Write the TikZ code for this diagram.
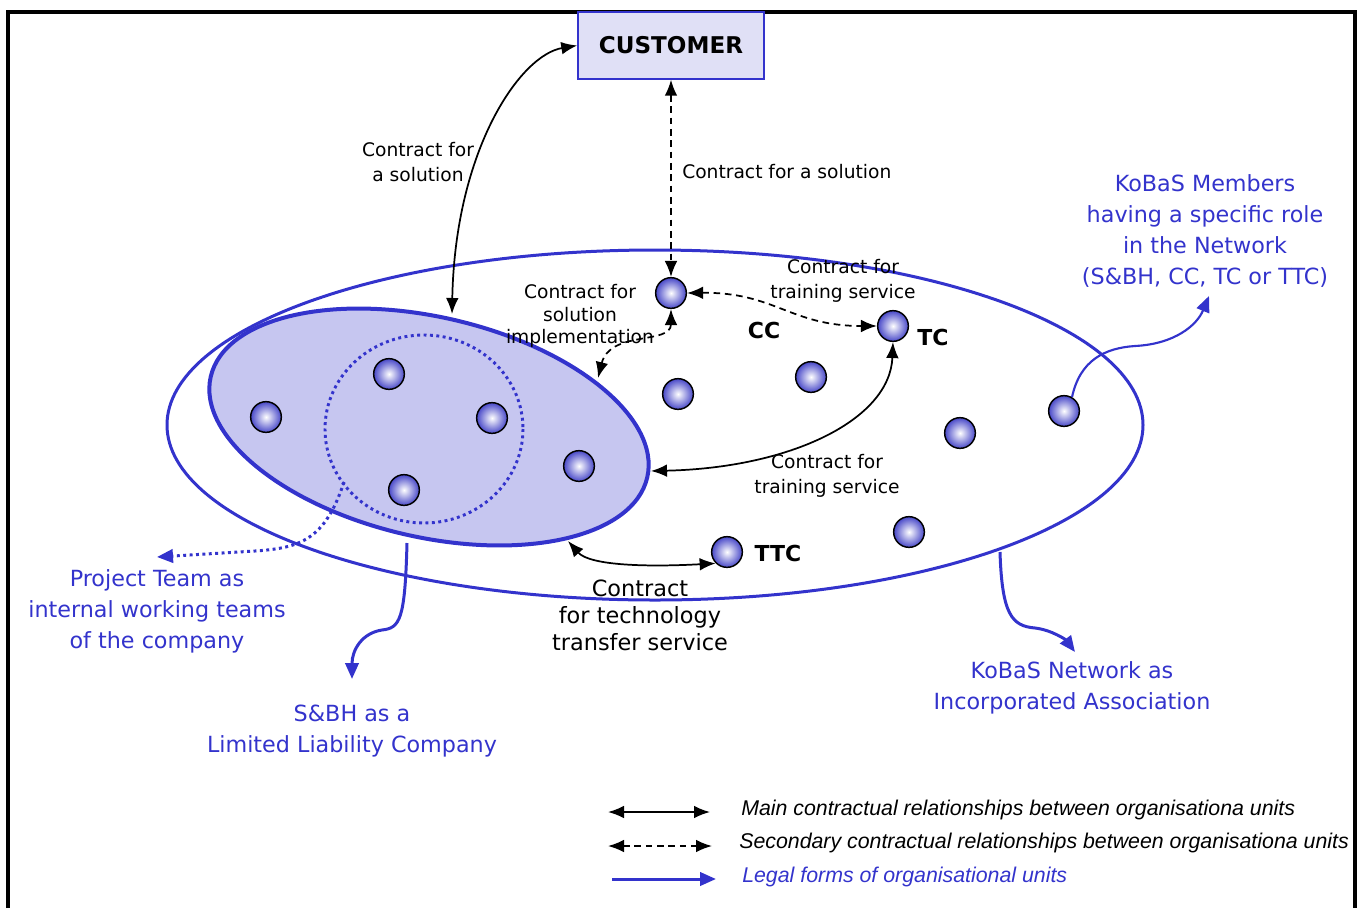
\documentclass[tikz,border=0pt]{standalone}
\usepackage{fontspec}
\setmainfont{DejaVu Sans}
\newfontfamily\legendfont{Liberation Sans}
\usetikzlibrary{arrows.meta}
\definecolor{kobasblue}{RGB}{51,51,204}
\definecolor{teamfill}{RGB}{198,198,240}
\definecolor{custfill}{RGB}{224,224,246}
\definecolor{ballblue}{RGB}{72,72,200}

\begin{document}
\begin{tikzpicture}[x=0.75pt,y=0.75pt,yscale=-1,xscale=1,
    unit/.style={circle,draw=black,line width=1.1pt,minimum size=23pt,inner sep=0pt,inner color=white,outer color=ballblue},
    lbl/.style={align=center,inner sep=0.75pt,font=\fontsize{14}{18.75}\selectfont},
    bluelbl/.style={align=center,inner sep=0.75pt,text=kobasblue,font=\fontsize{16.7}{23.25}\selectfont},
    rolelbl/.style={inner sep=0.75pt,font=\fontsize{16.5}{20}\selectfont\bfseries},
    keytext/.style={anchor=west,inner sep=0.75pt,font=\legendfont\itshape\fontsize{16}{19}\selectfont},
    mainarrow/.style={line width=1.3pt,{Latex[length=12pt,width=9.5pt]}-{Latex[length=12pt,width=9.5pt]}},
    secarrow/.style={line width=1.3pt,dash pattern=on 5pt off 3.5pt,{Latex[length=12pt,width=9.5pt]}-{Latex[length=12pt,width=9.5pt]}},
    legalarrow/.style={kobasblue,line width=2.25pt,-{Triangle[length=12pt,width=10pt]}}]
    \useasboundingbox (0,0) rectangle (1361,908);

    %Shape: Frame
    \draw [line width=2.4pt] (8,908) -- (8,12) -- (1355,12) -- (1355,908);

    %Shape: KoBaS network ellipse
    \draw [kobasblue,line width=2.25pt] (655,425) ellipse [x radius=488, y radius=175];
    %Shape: S&BH ellipse
    \draw [kobasblue,line width=3pt,fill=teamfill,rotate around={13:(429,427)}] (429,427) ellipse [x radius=224, y radius=110];
    %Shape: project team circle
    \draw [kobasblue,line width=2.2pt,dash pattern=on 2.2pt off 2.6pt] (424,429) ellipse [x radius=99, y radius=94];

    % points on the shapes
    \coordinate (sbhtop) at (452,314);
    \coordinate (sbhimpl) at (598,378);
    \coordinate (sbhright) at (651,471);
    \coordinate (sbhbottom) at (568,541);
    \coordinate (sbhlegal) at (407,543);
    \coordinate (teamstart) at (344,482);
    \coordinate (kobaslegal) at (1000,552);
    \coordinate (sbhtip) at (352,679);
    \coordinate (teamtip) at (157,557);
    \coordinate (kobastip) at (1075,652);
    \coordinate (memtip) at (1209,296);

    % Customer box
    \node (cust) [draw=kobasblue,line width=1.1pt,fill=custfill,minimum width=139.5pt,minimum height=50.25pt,inner sep=0pt,font=\fontsize{17.3}{20}\selectfont\bfseries] at (671,45.5) {CUSTOMER};

    % Units
    \node (u1) [unit] at (266,417) {};
    \node (u2) [unit] at (389,374) {};
    \node (u3) [unit] at (492,418) {};
    \node (u4) [unit] at (404,490) {};
    \node (u5) [unit] at (579,466) {};
    \node (cc) [unit] at (671,293) {};
    \node (tc) [unit] at (893,326) {};
    \node (u8) [unit] at (678,394) {};
    \node (u9) [unit] at (811,377) {};
    \node (u10) [unit] at (960,433) {};
    \node (m11) [unit] at (1064,411) {};
    \node (u12) [unit] at (909,532) {};
    \node (ttc) [unit] at (727,552) {};

    % Role names
    \node (cclbl) [rolelbl] at (764,330) {CC};
    \node (tclbl) [rolelbl] at (933,337) {TC};
    \node (ttclbl) [rolelbl] at (778,553) {TTC};

    %Straight Lines: main contracts
    \draw [mainarrow] (cust.west) .. controls (520,55) and (455,150) .. (sbhtop);
    \draw [mainarrow] (tc.south) .. controls (890,420) and (790,468) .. (sbhright);
    \draw [mainarrow] (sbhbottom) .. controls (590,566) and (650,567) .. (ttc.south west);
    %Straight Lines: secondary contracts
    \draw [secarrow] (cust.south) -- (cc.north);
    \draw [secarrow] (cc.east) .. controls (775,292) and (790,326) .. (tc.west);
    \draw [secarrow] (cc.south) .. controls (671,345) and (610,330) .. (sbhimpl);

    %Curves: legal forms
    \draw [legalarrow] (sbhlegal) .. controls (405,620) and (400,628) .. (382,630) .. controls (362,633) and (352,650) .. (sbhtip);
    \draw [legalarrow,dash pattern=on 2.2pt off 2.6pt] (teamstart) .. controls (325,540) and (300,548) .. (255,551) -- (teamtip);
    \draw [legalarrow] (kobaslegal) .. controls (1002,615) and (1012,626) .. (1035,628) .. controls (1052,630) and (1066,640) .. (kobastip);
    \draw [legalarrow,line width=1.6pt] (m11.60) .. controls (1080,360) and (1105,348) .. (1135,346) .. controls (1175,344) and (1197,325) .. (memtip);

    % Text Node
    \node (solleft) [lbl] at (418,162) {Contract for\\a solution};
    % Text Node
    \node (solright) [lbl,anchor=west] at (681,172) {Contract for a solution};
    % Text Node
    \node (trainup) [lbl] at (843,281) {Contract for\\training service};
    % Text Node
    \node (impl) [lbl,font=\fontsize{14}{16.9}\selectfont] at (580,316) {Contract for\\solution\\implementation};
    % Text Node
    \node (trainlow) [lbl] at (827,476) {Contract for\\training service};
    % Text Node
    \node (techlbl) [lbl,font=\fontsize{16.8}{20.25}\selectfont] at (640,615) {Contract\\for technology\\transfer service};

    % Text Node
    \node (memlbl) [bluelbl] at (1205,231) {KoBaS Members\\having a specific role\\in the Network\\(S\&BH, CC, TC or TTC)};
    % Text Node
    \node (teamlbl) [bluelbl] at (157,611) {Project Team as\\internal working teams\\of the company};
    % Text Node
    \node (sbhlbl) [bluelbl] at (352,731) {S\&BH as a\\Limited Liability Company};
    % Text Node
    \node (kobaslbl) [bluelbl] at (1072,688) {KoBaS Network as\\Incorporated Association};

    % Legend
    \coordinate (keyone) at (608,812);  \coordinate (keyoneend) at (710,812);
    \coordinate (keytwo) at (608,846);  \coordinate (keytwoend) at (712,846);
    \coordinate (keythree) at (612,879); \coordinate (keythreeend) at (716,879);
    \draw [mainarrow] (keyone) -- (keyoneend);
    \draw [secarrow] (keytwo) -- (keytwoend);
    \draw [legalarrow] (keythree) -- (keythreeend);
    \node (keymain) [keytext] at (740,810) {Main contractual relationships between organisationa units};
    \node (keysec) [keytext] at (738,843) {Secondary contractual relationships between organisationa units};
    \node (keylegal) [keytext,text=kobasblue] at (741,877) {Legal forms of organisational units};

\end{tikzpicture}
\end{document}
